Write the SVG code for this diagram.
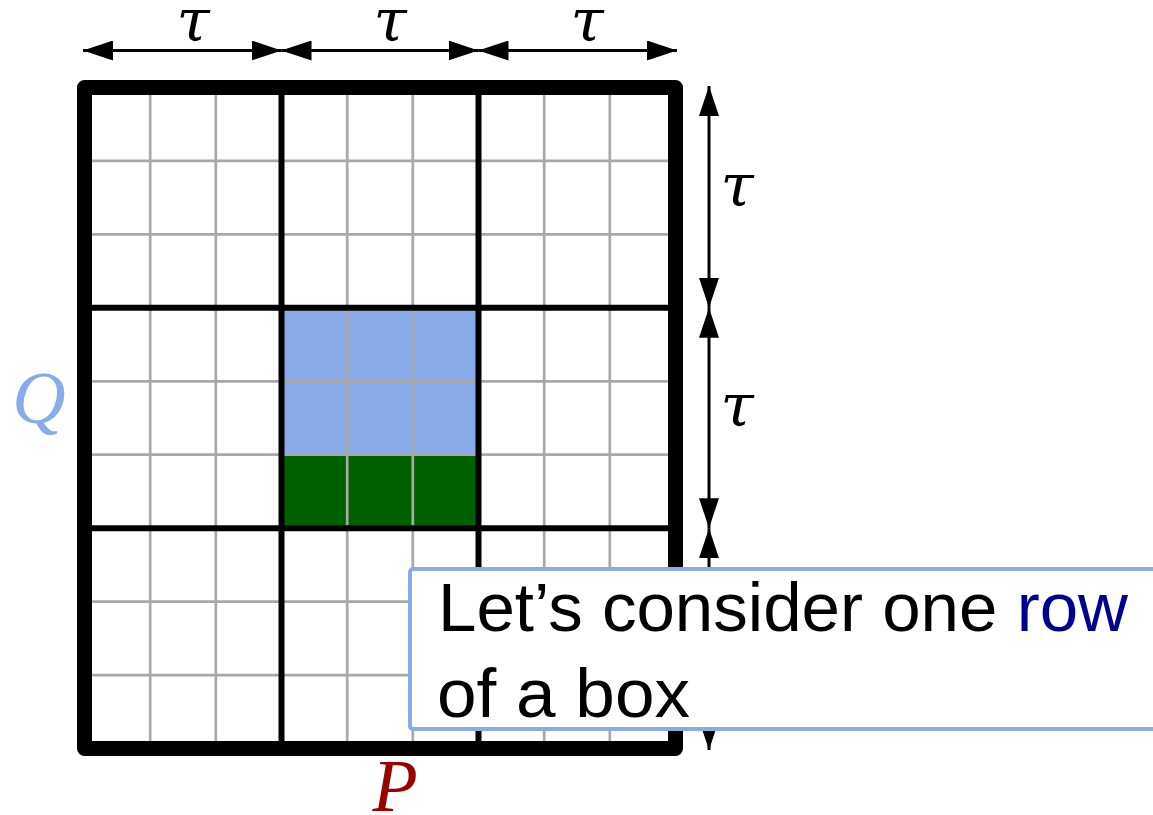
<svg xmlns="http://www.w3.org/2000/svg" width="1153" height="815" viewBox="0 0 1153 815">
<style>
.fine{stroke:#a8a8a8;stroke-width:2.7;fill:none}
.thick{stroke:#000;stroke-width:6;fill:none}
.dim{stroke:#000;stroke-width:3;fill:none;marker-start:url(#ah);marker-end:url(#ah)}
.math{font-family:"Liberation Serif","DejaVu Serif",serif;font-style:italic}
.tau{font-family:"DejaVu Serif",serif;font-style:italic;font-size:60px;fill:#000;text-anchor:middle}
.note{font-family:"Liberation Sans","DejaVu Sans",sans-serif;font-size:68px;fill:#000}
</style>
<defs>
<marker id="ah" viewBox="0 0 30 20" refX="30" refY="10" markerWidth="30" markerHeight="20" markerUnits="userSpaceOnUse" orient="auto-start-reverse">
<path d="M0,0 L30,10 L0,20 Z" fill="#000"/>
</marker>
</defs>
<rect width="1153" height="815" fill="#fff"/>
<g id="grid">
<rect x="281.5" y="307.8" width="197" height="146.9" fill="#8aabea"/>
<rect x="281.5" y="454.7" width="197" height="73.5" fill="#006000"/>
<g class="fine">
<line x1="150.2" y1="87.5" x2="150.2" y2="748.5"/>
<line x1="215.8" y1="87.5" x2="215.8" y2="748.5"/>
<line x1="347.2" y1="87.5" x2="347.2" y2="748.5"/>
<line x1="412.8" y1="87.5" x2="412.8" y2="748.5"/>
<line x1="544.2" y1="87.5" x2="544.2" y2="748.5"/>
<line x1="609.8" y1="87.5" x2="609.8" y2="748.5"/>
<line x1="84.5" y1="160.9" x2="675.5" y2="160.9"/>
<line x1="84.5" y1="234.4" x2="675.5" y2="234.4"/>
<line x1="84.5" y1="381.3" x2="675.5" y2="381.3"/>
<line x1="84.5" y1="454.7" x2="675.5" y2="454.7"/>
<line x1="84.5" y1="601.6" x2="675.5" y2="601.6"/>
<line x1="84.5" y1="675.1" x2="675.5" y2="675.1"/>
</g>
<g class="thick">
<line x1="281.5" y1="87.5" x2="281.5" y2="748.5"/>
<line x1="478.5" y1="87.5" x2="478.5" y2="748.5"/>
<line x1="84.5" y1="307.8" x2="675.5" y2="307.8"/>
<line x1="84.5" y1="528.2" x2="675.5" y2="528.2"/>
</g>
<rect x="84.5" y="87.5" width="591" height="661" fill="none" stroke="#000" stroke-width="15" stroke-linejoin="round"/>
</g>
<g id="connectors">
<line class="dim" x1="83" y1="50.5" x2="281.5" y2="50.5"/>
<line class="dim" x1="281.5" y1="50.5" x2="478.5" y2="50.5"/>
<line class="dim" x1="478.5" y1="50.5" x2="677" y2="50.5"/>
<line class="dim" x1="709" y1="86" x2="709" y2="307.8"/>
<line class="dim" x1="709" y1="307.8" x2="709" y2="528.2"/>
<line class="dim" x1="709" y1="528.2" x2="709" y2="750"/>
</g>
<g id="labels">
<text class="tau" x="193" y="41">τ</text>
<text class="tau" x="390" y="41">τ</text>
<text class="tau" x="587" y="41">τ</text>
<text class="tau" x="737" y="206">τ</text>
<text class="tau" x="737" y="426">τ</text>
<text class="math" x="39" y="423" font-size="74" fill="#8aabea" text-anchor="middle">Q</text>
<text class="math" x="395" y="811" font-size="74" fill="#990000" text-anchor="middle">P</text>
</g>
<g id="note">
<rect x="410" y="569" width="800" height="160" rx="3" fill="#fff" stroke="#8aabea" stroke-width="4"/>
<text class="note" x="438" y="631" textLength="690" lengthAdjust="spacingAndGlyphs">Let’s consider one <tspan fill="#000090">row</tspan></text>
<text class="note" x="437" y="717" textLength="253" lengthAdjust="spacingAndGlyphs">of a box</text>
</g>
</svg>
